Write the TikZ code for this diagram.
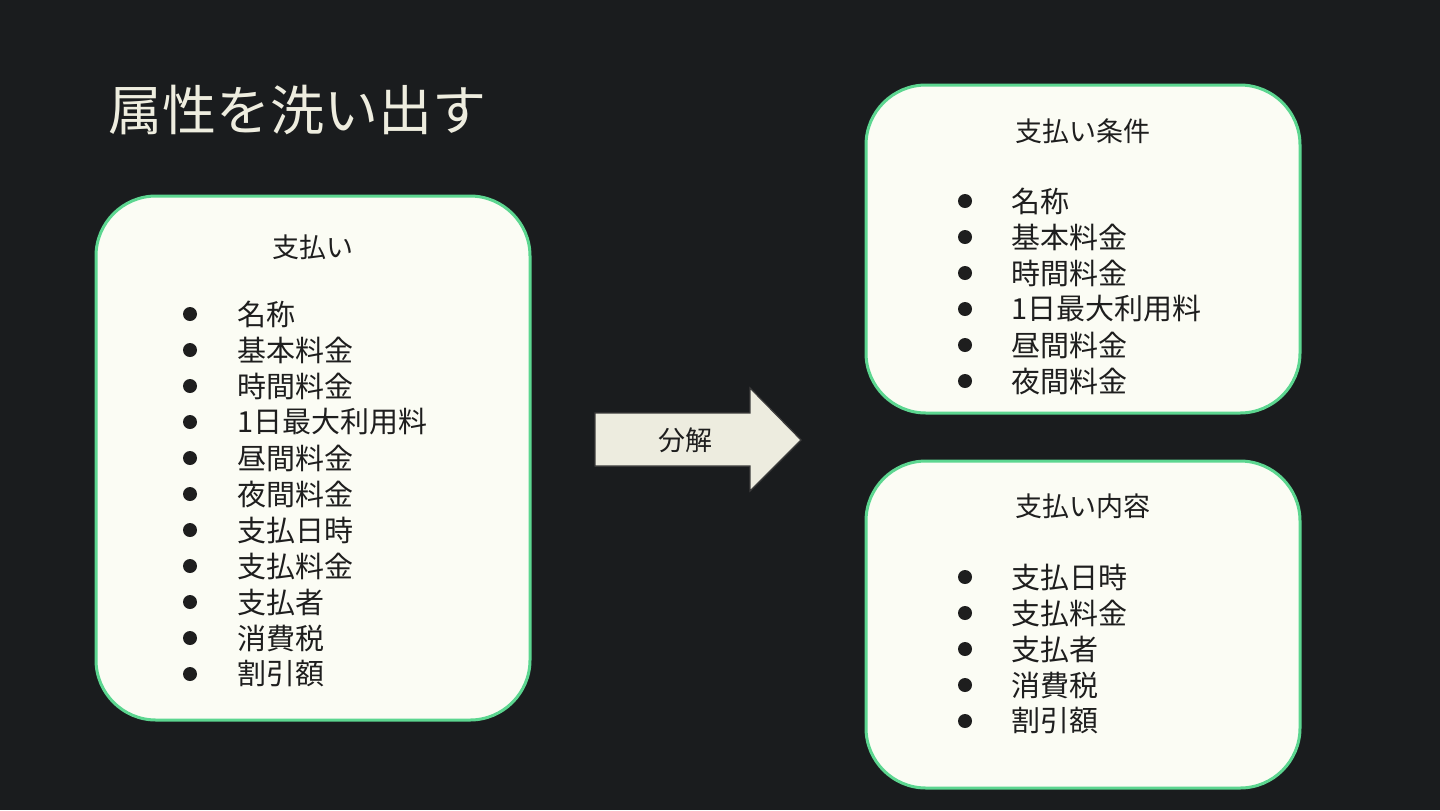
\documentclass[tikz,border=0pt]{standalone}
\usepackage{fontspec}
\setmainfont{Noto Sans CJK JP}
\usepackage{xcolor}

\definecolor{bgdark}{HTML}{1A1C1E}
\definecolor{boxfill}{HTML}{FBFCF4}
\definecolor{boxgreen}{HTML}{5CD690}
\definecolor{inkdark}{HTML}{1E1E1E}
\definecolor{titleink}{HTML}{EEEDDF}
\definecolor{arrowfill}{HTML}{EDECDF}
\definecolor{arrowline}{HTML}{3C3C3C}

\tikzset{
  attrbox/.style={draw=boxgreen, line width=1.5pt, fill=boxfill, rounded corners=30pt},
  boxhead/.style={inner sep=0pt, font=\fontsize{13.5}{16}\selectfont, text=inkdark},
  attritem/.style={anchor=west, inner sep=0pt, font=\fontsize{14.5}{17}\selectfont, text=inkdark},
  bulletdot/.style={circle, fill=inkdark, inner sep=0pt, minimum size=7pt},
}

\begin{document}
\begin{tikzpicture}[x=0.5pt,y=-0.5pt]

\fill[bgdark] (0,0) rectangle (1440,810);
\useasboundingbox (0,0) rectangle (1440,810);

% title
\node[anchor=west, inner sep=0pt, text=titleink, font=\fontsize{27}{32}\selectfont] (title) at (108,110) {属性を洗い出す};

% left box
\draw[attrbox] (96,196) rectangle (530,720);
\node[boxhead] (shiharai) at (313,247) {支払い};
\foreach \name [count=\i] in {名称,基本料金,時間料金,1日最大利用料,昼間料金,夜間料金,支払日時,支払料金,支払者,消費税,割引額}{
  \node[bulletdot] (lb\i) at (190,{314+36*(\i-1)}) {};
  \node[attritem] (li\i) at (237,{314+36*(\i-1)}) {\name};
}

% arrow
\draw[fill=arrowfill, draw=arrowline, line width=0.6pt]
  (595,413) -- (750,413) -- (750,388) -- (801,440) -- (750,491) -- (750,466) -- (595,466) -- cycle;
\node[boxhead] (bunkai) at (685,440) {分解};

% top right box
\draw[attrbox] (866,85) rectangle (1300,413);
\node[boxhead] (joken) at (1083,131) {支払い条件};
\foreach \name [count=\i] in {名称,基本料金,時間料金,1日最大利用料,昼間料金,夜間料金}{
  \node[bulletdot] (jb\i) at (965,{201+36*(\i-1)}) {};
  \node[attritem] (ji\i) at (1011,{201+36*(\i-1)}) {\name};
}

% bottom right box
\draw[attrbox] (866,461) rectangle (1300,788);
\node[boxhead] (naiyo) at (1083,506) {支払い内容};
\foreach \name [count=\i] in {支払日時,支払料金,支払者,消費税,割引額}{
  \node[bulletdot] (nb\i) at (965,{577+36*(\i-1)}) {};
  \node[attritem] (ni\i) at (1011,{577+36*(\i-1)}) {\name};
}

\end{tikzpicture}
\end{document}
